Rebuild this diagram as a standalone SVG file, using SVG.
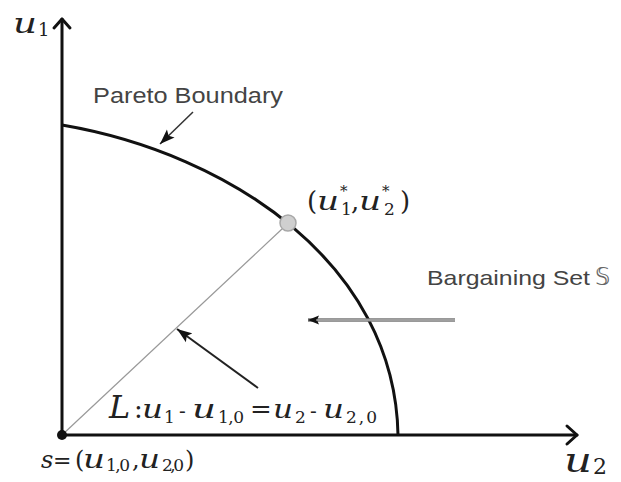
<svg xmlns="http://www.w3.org/2000/svg" width="621" height="482" viewBox="0 0 621 482">
<style>
.axis{fill:none;stroke:#111;stroke-width:3;stroke-linecap:round;stroke-linejoin:round}
.m{font-family:"DejaVu Serif","Liberation Serif",serif;fill:#222}
.mi{font-style:italic}
.lbl{font-family:"Liberation Sans",Arial,sans-serif;fill:#444}
</style>
<defs>
<marker id="ah" markerUnits="userSpaceOnUse" markerWidth="16" markerHeight="12" refX="15" refY="6" orient="auto">
<path d="M0,0.5 L15,6 L0,11.5 L3,6 Z" fill="#111"/>
</marker>
<marker id="ahs" markerUnits="userSpaceOnUse" markerWidth="12" markerHeight="10" refX="11" refY="5" orient="auto">
<path d="M0,0.5 L11,5 L0,9.5 L2,5 Z" fill="#111"/>
</marker>
</defs>
<rect width="621" height="482" fill="#fff"/>
<g id="axes">
<path class="axis" d="M62,435 L62,19"/>
<path class="axis" d="M54,28 L62,19 L70,28"/>
<path class="axis" d="M62,435 L577,435"/>
<path class="axis" d="M567,426 L577,435 L567,444"/>
</g>
<g id="pareto-boundary">
<path d="M62,125 C232,154 395,265 398,435" fill="none" stroke="#111" stroke-width="3"/>
</g>
<g id="connectors">
<line x1="62" y1="435" x2="282" y2="229" stroke="#999" stroke-width="1.2"/>
<line x1="193" y1="112" x2="160" y2="144" stroke="#333" stroke-width="1.5" marker-end="url(#ah)"/>
<line x1="258" y1="388" x2="177" y2="329" stroke="#222" stroke-width="2" marker-end="url(#ah)"/>
<line x1="455" y1="320" x2="308" y2="320" stroke="#777" stroke-width="3.5" marker-end="url(#ahs)"/>
<line x1="455" y1="320" x2="316" y2="320" stroke="#c8c8c8" stroke-width="1"/>
</g>
<g id="origin">
<circle cx="62" cy="435" r="5" fill="#111"/>
</g>
<g id="nbs-point">
<circle cx="288" cy="223" r="8" fill="#cfcfcf" stroke="#a8a8a8" stroke-width="1.5"/>
</g>
<g id="labels">
<text class="lbl" x="93" y="103" font-size="22" textLength="190" lengthAdjust="spacingAndGlyphs">Pareto Boundary</text>
<text class="lbl" x="427" y="285" font-size="21" textLength="163" lengthAdjust="spacingAndGlyphs" fill="#555">Bargaining Set</text>
<text x="595" y="285" font-size="24" font-family="'DejaVu Sans',sans-serif" fill="#666">𝕊</text>
<text class="m" font-size="28"><tspan class="mi" x="13" y="33" textLength="24" lengthAdjust="spacingAndGlyphs">u</tspan><tspan x="38" y="36" font-size="18">1</tspan></text>
<text class="m" font-size="34"><tspan class="mi" x="564" y="472" textLength="28" lengthAdjust="spacingAndGlyphs">u</tspan><tspan x="593" y="474" font-size="22">2</tspan></text>
<text class="m" font-size="26"><tspan x="307" y="210">(</tspan><tspan class="mi" x="317" y="210" textLength="22" lengthAdjust="spacingAndGlyphs">u</tspan><tspan x="340" y="196" font-size="15">*</tspan><tspan x="341" y="215" font-size="17">1</tspan><tspan x="351" y="210">,</tspan><tspan class="mi" x="359" y="210" textLength="22" lengthAdjust="spacingAndGlyphs">u</tspan><tspan x="382" y="196" font-size="15">*</tspan><tspan x="384" y="215" font-size="17">2</tspan><tspan x="400" y="210">)</tspan></text>
<text class="m" font-size="26"><tspan class="mi" x="109" y="418" font-size="32">L</tspan><tspan x="134" y="418">:</tspan><tspan class="mi" x="142" y="418" textLength="21" lengthAdjust="spacingAndGlyphs">u</tspan><tspan x="164" y="423" font-size="17">1</tspan><tspan x="179" y="418" font-size="20">-</tspan><tspan class="mi" x="192" y="418" textLength="24" lengthAdjust="spacingAndGlyphs">u</tspan><tspan x="218" y="423" font-size="17" textLength="26">1,0</tspan><tspan x="250" y="418">=</tspan><tspan class="mi" x="273" y="418" textLength="20" lengthAdjust="spacingAndGlyphs">u</tspan><tspan x="295" y="423" font-size="17">2</tspan><tspan x="310" y="418" font-size="20">-</tspan><tspan class="mi" x="323" y="418" textLength="21" lengthAdjust="spacingAndGlyphs">u</tspan><tspan x="346" y="423" font-size="17" textLength="31">2,0</tspan></text>
<text class="m" font-size="24"><tspan class="mi" x="41" y="468">s</tspan><tspan x="53" y="468" font-size="22">=</tspan><tspan x="75" y="468">(</tspan><tspan class="mi" x="83" y="468" font-size="26" textLength="22" lengthAdjust="spacingAndGlyphs">u</tspan><tspan x="106" y="471" font-size="17" textLength="24">1,0</tspan><tspan x="132" y="468">,</tspan><tspan class="mi" x="139" y="468" font-size="26" textLength="21" lengthAdjust="spacingAndGlyphs">u</tspan><tspan x="162" y="471" font-size="17" textLength="22">2,0</tspan><tspan x="185" y="468">)</tspan></text>
</g>
</svg>
